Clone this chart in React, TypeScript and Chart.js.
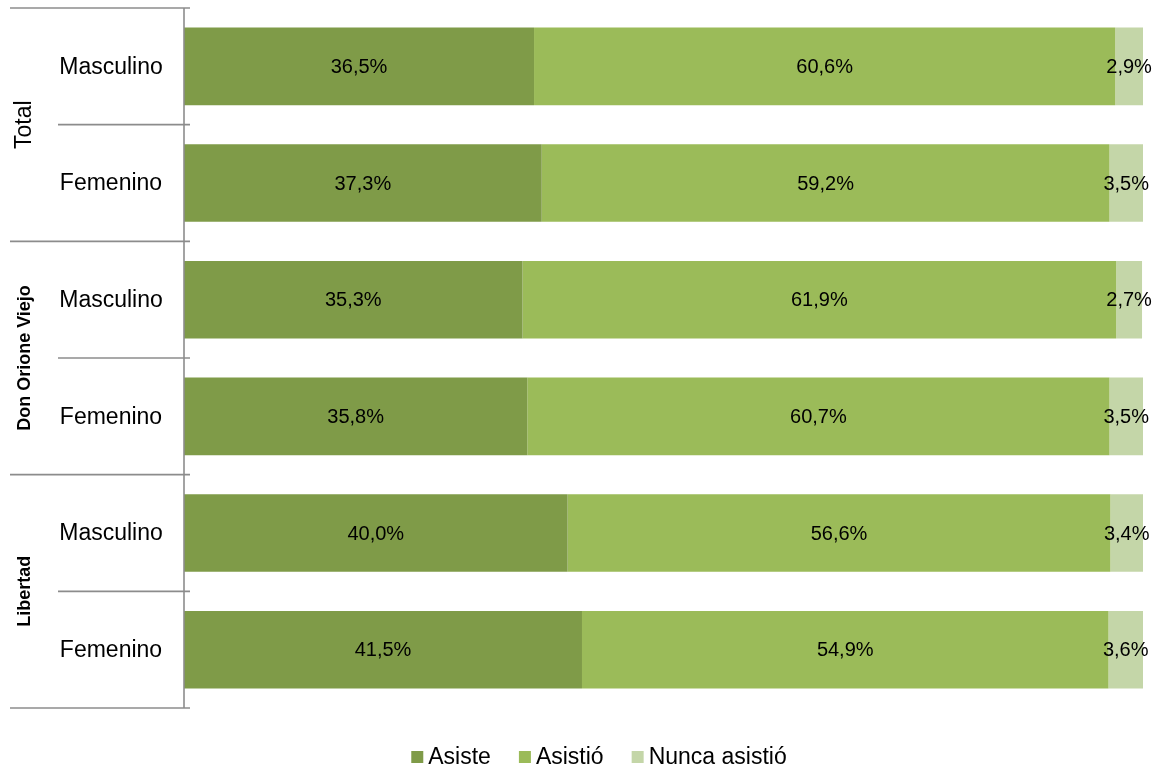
import React, { useEffect, useRef } from "react";
import { Chart, registerables } from "chart.js";

Chart.register(...registerables);

const categories = ["Masculino", "Femenino", "Masculino", "Femenino", "Masculino", "Femenino"];
const groups = ["Total", "Don Orione Viejo", "Libertad"];
const groupBold = [false, true, true];
const seriesNames = ["Asiste", "Asistió", "Nunca asistió"];
const asiste = [36.5, 37.3, 35.3, 35.8, 40.0, 41.5];
const asistio = [60.6, 59.2, 61.9, 60.7, 56.6, 54.9];
const nunca = [2.9, 3.5, 2.7, 3.5, 3.4, 3.6];
const colors = ["#7F9B48", "#9BBB59", "#C4D6A8"];

const FONT = "'Liberation Sans', Arial, sans-serif";
const fmt = (v: number) => v.toFixed(1).replace(".", ",") + "%";

const decorPlugin = {
  id: "decor",
  afterDraw(chart: any) {
    const ctx = chart.ctx as CanvasRenderingContext2D;
    const area = chart.chartArea;
    const ys = chart.scales.y;
    const p0 = ys.getPixelForValue(0);
    const p1 = ys.getPixelForValue(1);
    const band = p1 - p0;
    const boundary = (i: number) => p0 - band / 2 + i * band;

    ctx.save();
    // data labels
    ctx.fillStyle = "#000";
    ctx.font = `20px ${FONT}`;
    ctx.textAlign = "center";
    ctx.textBaseline = "middle";
    chart.data.datasets.forEach((ds: any, di: number) => {
      const meta = chart.getDatasetMeta(di);
      meta.data.forEach((el: any, i: number) => {
        const cx = (el.x + el.base) / 2;
        ctx.fillText(fmt(ds.data[i]), cx, el.y + 1);
      });
    });

    // lines
    ctx.strokeStyle = "#8C8C8C";
    ctx.lineWidth = 1.6;
    const tickEnd = area.left + 6;
    for (let g = 0; g <= groups.length; g++) {
      const y = boundary(g * 2);
      ctx.beginPath();
      ctx.moveTo(10, y);
      ctx.lineTo(tickEnd, y);
      ctx.stroke();
    }
    for (let g = 0; g < groups.length; g++) {
      const y = boundary(g * 2 + 1);
      ctx.beginPath();
      ctx.moveTo(58, y);
      ctx.lineTo(tickEnd, y);
      ctx.stroke();
    }
    ctx.beginPath();
    ctx.moveTo(area.left, boundary(0));
    ctx.lineTo(area.left, boundary(categories.length));
    ctx.stroke();

    // category labels
    ctx.fillStyle = "#000";
    ctx.font = `23px ${FONT}`;
    ctx.textAlign = "center";
    categories.forEach((c, i) => {
      ctx.fillText(c, 111, ys.getPixelForValue(i) + 1);
    });

    // group labels
    groups.forEach((g, gi) => {
      const cy = (boundary(gi * 2) + boundary(gi * 2 + 2)) / 2;
      ctx.save();
      ctx.translate(25, cy);
      ctx.rotate(-Math.PI / 2);
      ctx.font = groupBold[gi] ? `bold 18px ${FONT}` : `23px ${FONT}`;
      ctx.textAlign = "center";
      ctx.textBaseline = "middle";
      ctx.fillText(g, 0, 0);
      ctx.restore();
    });

    // legend
    ctx.font = `23px ${FONT}`;
    ctx.textAlign = "left";
    ctx.textBaseline = "middle";
    const box = 12;
    const gapText = 5;
    const gapItem = 28;
    const widths = seriesNames.map((n) => box + gapText + ctx.measureText(n).width);
    const total = widths.reduce((a, b) => a + b, 0) + gapItem * (seriesNames.length - 1);
    let x = (chart.width - total) / 2 + 20;
    const ly = 757;
    seriesNames.forEach((n, i) => {
      ctx.fillStyle = colors[i];
      ctx.fillRect(x, ly - box / 2, box, box);
      ctx.fillStyle = "#000";
      ctx.fillText(n, x + box + gapText, ly + 1);
      x += widths[i] + gapItem;
    });
    ctx.restore();
  },
};

export default function App() {
  const ref = useRef<HTMLCanvasElement | null>(null);
  useEffect(() => {
    if (!ref.current) return;
    const chart = new Chart(ref.current, {
      type: "bar",
      data: {
        labels: categories,
        datasets: [asiste, asistio, nunca].map((d, i) => ({
          label: seriesNames[i],
          data: d,
          backgroundColor: colors[i],
          borderWidth: 0,
          categoryPercentage: 1,
          barPercentage: 0.665,
        })),
      },
      options: {
        indexAxis: "y",
        responsive: false,
        animation: false,
        layout: { padding: { left: 184, top: 8, right: 15, bottom: 61 } },
        scales: {
          x: { display: false, stacked: true, min: 0, max: 100 },
          y: { display: false, stacked: true },
        },
        plugins: {
          legend: { display: false },
          tooltip: { enabled: false },
        },
      },
      plugins: [decorPlugin],
    });
    return () => chart.destroy();
  }, []);
  return (
    <div style={{ position: "absolute", left: 0, top: 0, width: 1158, height: 769, background: "#fff" }}>
      <canvas ref={ref} width={1158} height={769} style={{ display: "block" }} />
    </div>
  );
}
